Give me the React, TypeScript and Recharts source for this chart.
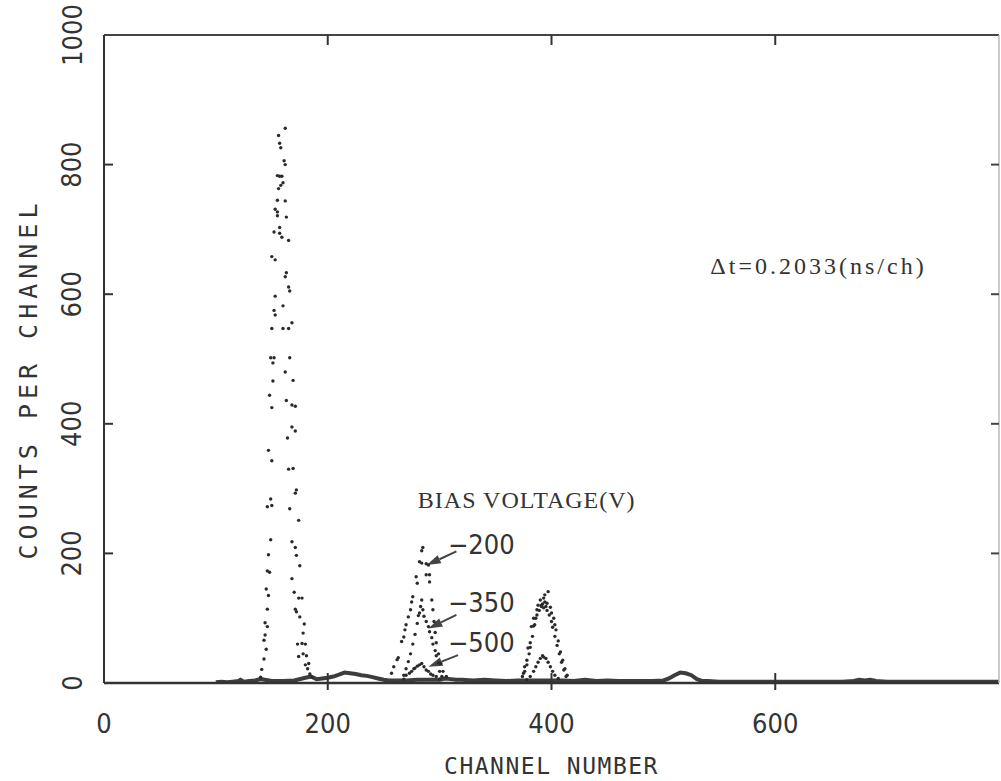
import React from 'react';
import { ComposedChart, Scatter, Line, XAxis, YAxis, ReferenceLine, ReferenceDot } from 'recharts';

// ---- axis ticks ----
const xTicks = [0, 200, 400, 600, 800];
const yTicks = [0, 200, 400, 600, 800, 1000];

// ---- prompt peak (all bias voltages overlap) ----
const promptCh = [162,156,157,158,161,162,155,157,159,160,158,156,155,162,153,155,155,163,157,152,157,159,165,150,153,163,162,165,166,153,160,152,153,168,150,160,165,149,152,166,151,162,151,169,148,150,163,168,171,168,171,164,147,150,165,169,172,171,149,146,150,166,174,149,168,171,147,172,175,146,148,168,145,147,170,174,177,146,171,172,175,179,178,144,146,144,143,145,173,177,180,181,174,143,180,141,140,182,184,186,183,178];
const promptCounts = [856,845,833,826,806,800,783,782,782,772,768,763,745,744,731,727,721,719,703,696,694,688,683,658,653,633,627,611,605,597,582,575,568,556,547,547,547,502,502,502,494,480,466,467,444,425,436,429,427,395,389,378,359,343,330,331,298,293,284,272,274,269,251,221,218,209,198,197,181,173,171,161,145,135,140,131,131,114,114,110,102,91,77,93,87,74,66,52,60,61,60,42,41,37,28,21,9,22,14,9,30,45];

// ---- bias -200 V ----
const b200Ch = [257,259,262,263,266,268,269,270,272,274,275,276,279,280,282,284,284,285,288,290,288,291,291,293,294,295,296,297,299,301,303,306,375,376,378,379,381,382,384,385,387,388,390,391,393,393,394,397,396,399,400,402,403,404,406,408,410,412,414];
const b200Counts = [15,25,36,39,64,71,82,90,102,113,125,133,164,154,187,185,204,209,184,182,167,167,156,128,113,95,78,62,45,30,18,10,15,25,35,54,62,87,100,90,113,120,128,120,116,131,136,141,123,117,108,100,90,82,65,48,35,22,12];

// ---- bias -350 V ----
const b350Ch = [268,270,272,274,276,278,280,281,282,283,284,285,286,288,290,291,293,294,296,297,299,300,302,374,376,378,380,381,383,384,386,387,389,391,392,394,395,396,398,400,401,403,405,407,409,411,413];
const b350Counts = [12,22,33,45,60,75,92,104,108,118,128,113,103,95,87,79,70,60,50,42,31,18,10,10,18,28,45,55,72,88,100,105,112,118,122,125,118,112,105,95,86,72,58,45,32,20,10];

// ---- bias -500 V ----
const b500Ch = [268,270,273,275,277,278,280,282,284,286,288,290,292,294,297,300,378,381,384,386,388,390,392,393,395,397,399,401,403,406];
const b500Counts = [6,12,15,18,22,23,26,28,30,25,20,18,14,12,10,6,5,10,18,25,32,38,42,40,38,32,25,18,12,7];

// ---- background counts ----
const bgCh = [100,105,110,115,120,122,125,130,135,140,150,160,170,180,185,190,195,200,205,210,215,220,225,230,235,240,245,250,255,260,270,280,290,300,305,310,315,320,330,340,350,360,370,380,390,400,410,420,430,440,450,460,470,480,490,500,505,510,515,520,525,530,535,540,550,560,570,580,590,600,610,620,630,640,650,660,670,675,680,685,690,700,710,720,730,740,750,760,770,780,790,800];
const bgCounts = [1,2,1,2,3,5,2,3,4,6,3,3,4,8,10,6,7,8,10,13,16,15,14,12,11,9,7,5,4,4,4,5,5,5,7,6,5,5,4,5,4,3,4,4,4,4,4,3,5,3,4,3,3,3,3,4,7,12,16,15,12,6,3,3,2,2,2,2,2,2,2,2,2,2,2,2,3,5,4,5,3,2,2,2,2,2,2,2,2,2,2,2];

const zip = (xs: number[], ys: number[]) => xs.map((ch, i) => ({ ch, count: ys[i] }));

const promptData = zip(promptCh, promptCounts);
const b200Data = zip(b200Ch, b200Counts);
const b350Data = zip(b350Ch, b350Counts);
const b500Data = zip(b500Ch, b500Counts);
const bgData = zip(bgCh, bgCounts);

const INK = '#2a2a2a';
const NUM_FONT = "'Liberation Sans Narrow','DejaVu Sans Condensed','Roboto Condensed','Liberation Sans',Arial,sans-serif";
const MONO_SERIF = "'Liberation Serif','DejaVu Serif',serif";
const TITLE_FONT = "'DejaVu Sans Mono','Liberation Mono',monospace";

const Dot = (p: any) => <circle cx={p.cx} cy={p.cy} r={1.7} fill={INK} />;

const Arrow = (p: any) => {
  const { x1, y1, x2, y2 } = p;
  const dx = x2 - x1, dy = y2 - y1;
  const len = Math.hypot(dx, dy) || 1;
  const ux = dx / len, uy = dy / len;
  const L = 14, W = 4.5;
  const bx = x2 - ux * L, by = y2 - uy * L;
  return (
    <g>
      <line x1={x1} y1={y1} x2={bx} y2={by} stroke="#444" strokeWidth={2} />
      <polygon points={`${x2},${y2} ${bx - uy * W},${by + ux * W} ${bx + uy * W},${by - ux * W}`} fill="#444" />
    </g>
  );
};

const textAt = (txt: string, font: string, size: number, spacing = 0) => (p: any) => (
  <text x={p.cx} y={p.cy} fontFamily={font} fontSize={size} fill="#333" dominantBaseline="central" letterSpacing={spacing} fontStretch="condensed">{txt}</text>
);

const BottomTick = (p: any) => {
  const v = p.payload.value;
  const inner = v !== 0 && v !== 800;
  return (
    <g>
      {inner && <line x1={p.x} y1={p.y - 10} x2={p.x} y2={p.y + 7} stroke="#333" strokeWidth={2} />}
      {v !== 800 && (
        <text x={p.x} y={p.y + 40} textAnchor="middle" dominantBaseline="central" fontFamily={NUM_FONT} fontStretch="condensed" fontSize={27} fill="#333">{v}</text>
      )}
    </g>
  );
};

const TopTick = (p: any) => {
  const v = p.payload.value;
  if (v === 0 || v === 800) return <g />;
  return <line x1={p.x} y1={p.y} x2={p.x} y2={p.y + 10} stroke="#333" strokeWidth={2} />;
};

const LeftTick = (p: any) => {
  const v = p.payload.value;
  const inner = v !== 0 && v !== 1000;
  const tx = p.x - 32;
  return (
    <g>
      {inner && <line x1={p.x} y1={p.y} x2={p.x + 9} y2={p.y} stroke="#333" strokeWidth={2} />}
      <text x={tx} y={p.y} transform={`rotate(-90 ${tx} ${p.y})`} textAnchor="middle" dominantBaseline="central" fontFamily={NUM_FONT} fontStretch="condensed" fontSize={27} fill="#333">{v}</text>
    </g>
  );
};

const RightTick = (p: any) => {
  const v = p.payload.value;
  if (v === 0 || v === 1000) return <g />;
  return <line x1={p.x - 8} y1={p.y} x2={p.x} y2={p.y} stroke="#444" strokeWidth={2} />;
};

const YTitle = (p: any) => {
  const vb = p.viewBox;
  const x = vb.x + 28;
  const y = vb.y + vb.height / 2 + 20;
  return (
    <text x={x} y={y} transform={`rotate(-90 ${x} ${y})`} textAnchor="middle" dominantBaseline="central" fontFamily={TITLE_FONT} fontSize={25} letterSpacing={5} fill="#333">COUNTS PER CHANNEL</text>
  );
};

const XTitle = (p: any) => {
  const vb = p.viewBox;
  const x = vb.x + vb.width / 2;
  const y = vb.y + 83;
  return (
    <text x={x} y={y} textAnchor="middle" dominantBaseline="central" fontFamily={TITLE_FONT} fontSize={23} letterSpacing={1.5} fill="#333">CHANNEL NUMBER</text>
  );
};

export default function App() {
  return (
    <div style={{ position: 'absolute', left: 0, top: 0, width: 1001, height: 781, background: '#fff' }}>
      <ComposedChart width={1001} height={781} margin={{ top: 0, right: 0, bottom: 0, left: 0 }}>
        <XAxis xAxisId="b" dataKey="ch" type="number" domain={[0, 800]} ticks={xTicks} orientation="bottom" height={98}
          tickSize={0} tickMargin={0} tickLine={false} axisLine={{ stroke: '#333', strokeWidth: 2.5 }} tick={BottomTick}
          interval={0} allowDataOverflow label={XTitle} />
        <XAxis xAxisId="t" dataKey="ch" type="number" domain={[0, 800]} ticks={xTicks} orientation="top" height={35}
          tickSize={0} tickMargin={0} tickLine={false} axisLine={{ stroke: '#444', strokeWidth: 2 }} tick={TopTick}
          interval={0} allowDataOverflow />
        <YAxis yAxisId="l" type="number" domain={[0, 1000]} ticks={yTicks} orientation="left" width={104}
          tickSize={0} tickMargin={0} tickLine={false} axisLine={{ stroke: '#333', strokeWidth: 2 }} tick={LeftTick}
          interval={0} allowDataOverflow label={YTitle} />
        <YAxis yAxisId="r" type="number" domain={[0, 1000]} ticks={yTicks} orientation="right" width={2}
          tickSize={0} tickMargin={0} tickLine={false} axisLine={{ stroke: '#bbb', strokeWidth: 1.5 }} tick={RightTick}
          interval={0} allowDataOverflow />

        <Line xAxisId="b" yAxisId="l" data={bgData} dataKey="count" type="linear" stroke="#3d3d3d" strokeWidth={4}
          dot={false} activeDot={false} isAnimationActive={false} />
        <Scatter xAxisId="b" yAxisId="l" name="prompt" data={promptData} dataKey="count" shape={Dot} isAnimationActive={false} />
        <Scatter xAxisId="b" yAxisId="l" name="-200" data={b200Data} dataKey="count" shape={Dot} isAnimationActive={false} />
        <Scatter xAxisId="b" yAxisId="l" name="-350" data={b350Data} dataKey="count" shape={Dot} isAnimationActive={false} />
        <Scatter xAxisId="b" yAxisId="l" name="-500" data={b500Data} dataKey="count" shape={Dot} isAnimationActive={false} />

        <ReferenceLine xAxisId="b" yAxisId="l" segment={[{ x: 315, y: 203 }, { x: 288.5, y: 182 }]} shape={Arrow} ifOverflow="visible" />
        <ReferenceLine xAxisId="b" yAxisId="l" segment={[{ x: 315, y: 105 }, { x: 290, y: 84 }]} shape={Arrow} ifOverflow="visible" />
        <ReferenceLine xAxisId="b" yAxisId="l" segment={[{ x: 316.5, y: 43 }, { x: 290, y: 25 }]} shape={Arrow} ifOverflow="visible" />

        <ReferenceDot xAxisId="b" yAxisId="l" x={307.5} y={213} r={0} shape={textAt('\u2212200', NUM_FONT, 27)} ifOverflow="visible" />
        <ReferenceDot xAxisId="b" yAxisId="l" x={307.5} y={125} r={0} shape={textAt('\u2212350', NUM_FONT, 27)} ifOverflow="visible" />
        <ReferenceDot xAxisId="b" yAxisId="l" x={307.5} y={62} r={0} shape={textAt('\u2212500', NUM_FONT, 27)} ifOverflow="visible" />
        <ReferenceDot xAxisId="b" yAxisId="l" x={280.5} y={282} r={0} shape={textAt('BIAS VOLTAGE(V)', MONO_SERIF, 24, 1)} ifOverflow="visible" />
        <ReferenceDot xAxisId="b" yAxisId="l" x={542} y={643} r={0} shape={textAt('\u0394t=0.2033(ns/ch)', MONO_SERIF, 24, 3)} ifOverflow="visible" />
      </ComposedChart>
    </div>
  );
}
